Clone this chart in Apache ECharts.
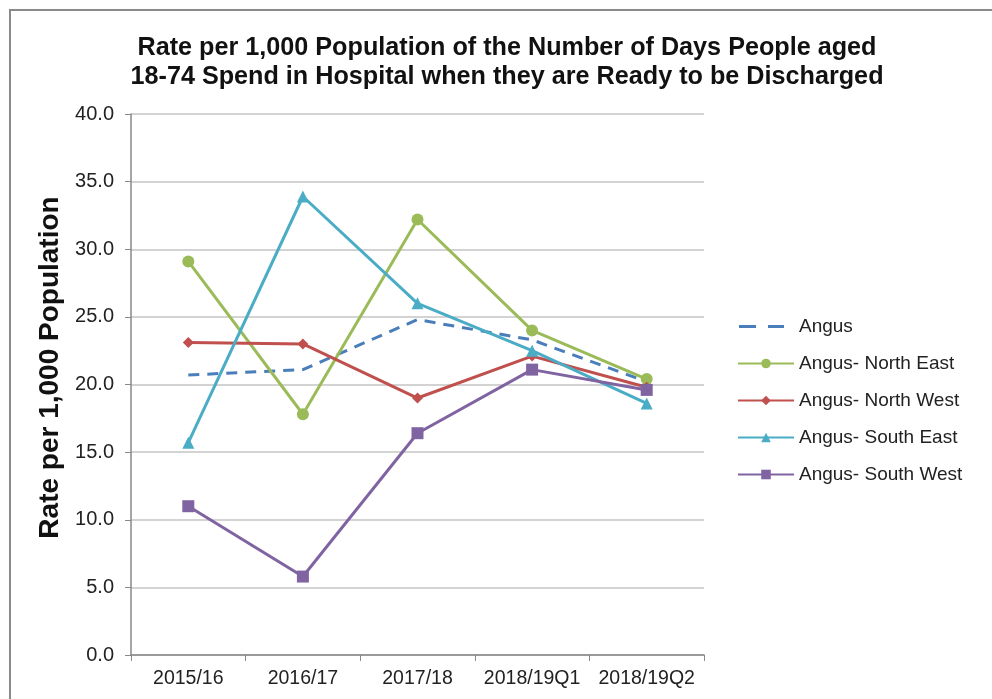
<!DOCTYPE html>
<html>
<head>
<meta charset="utf-8">
<script src="https://cdn.jsdelivr.net/npm/echarts@6/dist/echarts.min.js"></script>
<style>
html,body{margin:0;padding:0;background:#fff;}
#chart{width:992px;height:699px;}
</style>
</head>
<body>
<div id="chart"></div>
<script>
// Periods on the category axis
const categories = ['2015/16', '2016/17', '2017/18', '2018/19Q1', '2018/19Q2'];

// Rate per 1,000 population, by locality
const angus          = [20.7, 21.1, 24.8, 23.3, 20.2];
const angusNorthEast = [29.1, 17.8, 32.2, 24.0, 20.4];
const angusNorthWest = [23.1, 23.0, 19.0, 22.1, 19.8];
const angusSouthEast = [15.7, 33.9, 26.0, 22.5, 18.6];
const angusSouthWest = [11.0,  5.8, 16.4, 21.1, 19.6];

const seriesNames = ['Angus', 'Angus- North East', 'Angus- North West', 'Angus- South East', 'Angus- South West'];

// Two short dashes for the dashed series' legend key (zero-area subpaths pin the 56px box)
const dashedKey = 'path://M0,0L0,3M1,0h17v3h-17zM30,0h16v3h-16zM56,0L56,3';

const chart = echarts.init(document.getElementById('chart'));

function lineSeries(name, data, color, symbol, size, dashed) {
  return {
    name: name,
    type: 'line',
    data: data,
    symbol: symbol,
    symbolSize: size,
    showSymbol: symbol !== 'none',
    itemStyle: { color: color },
    lineStyle: { color: color, width: 3, type: dashed ? [11, 8] : 'solid' },
    emphasis: { disabled: true },
    animation: false,
    z: 3
  };
}

chart.setOption({
  backgroundColor: '#fff',
  textStyle: { fontFamily: 'Liberation Sans, Arial, sans-serif' },
  title: {
    text: 'Rate per 1,000 Population of the Number of Days People aged\n18-74 Spend in Hospital when they are Ready to be Discharged',
    left: 502,
    textAlign: 'center',
    top: 29,
    textStyle: { fontSize: 25.2, fontWeight: 'bold', color: '#111', lineHeight: 29 }
  },
  graphic: [{
    type: 'rect',
    shape: { x: 10, y: 10, width: 1000, height: 720 },
    style: { fill: 'none', stroke: '#8a8a8a', lineWidth: 2 },
    silent: true
  }],
  legend: {
    orient: 'vertical',
    left: 732,
    top: 312,
    itemWidth: 56,
    itemHeight: 12,
    itemGap: 18,
    data: [
      { name: seriesNames[0], icon: dashedKey },
      seriesNames[1], seriesNames[2], seriesNames[3], seriesNames[4]
    ],
    textStyle: { fontSize: 19, color: '#222' }
  },
  grid: { left: 131, right: 288, top: 114, bottom: 44, containLabel: false },
  xAxis: {
    type: 'category',
    data: categories,
    boundaryGap: true,
    axisLine: { lineStyle: { color: '#888', width: 1.5 } },
    axisTick: { show: true, length: 6, lineStyle: { color: '#888' } },
    axisLabel: { fontSize: 19.5, color: '#222', margin: 14, interval: 0 },
    splitLine: { show: false }
  },
  yAxis: {
    type: 'value',
    min: 0,
    max: 40,
    interval: 5,
    name: 'Rate per 1,000 Population',
    nameLocation: 'middle',
    nameRotate: 90,
    nameGap: 66,
    nameTextStyle: { fontSize: 28, fontWeight: 'bold', color: '#111', padding: [0, 0, 0, 34] },
    axisLine: { show: true, lineStyle: { color: '#888', width: 1.5 } },
    axisTick: { show: true, length: 6, lineStyle: { color: '#888' } },
    axisLabel: { fontSize: 20, color: '#222', margin: 17, formatter: v => v.toFixed(1) },
    splitLine: { lineStyle: { color: '#c4c4c4', width: 1.5 } }
  },
  series: [
    lineSeries(seriesNames[0], angus, '#4a7ebb', 'none', 0, true),
    lineSeries(seriesNames[1], angusNorthEast, '#9bbb59', 'circle', 12, false),
    lineSeries(seriesNames[2], angusNorthWest, '#c0504d', 'diamond', 11, false),
    lineSeries(seriesNames[3], angusSouthEast, '#4bacc6', 'triangle', 12, false),
    lineSeries(seriesNames[4], angusSouthWest, '#8064a2', 'rect', 12, false)
  ]
});
</script>
</body>
</html>
